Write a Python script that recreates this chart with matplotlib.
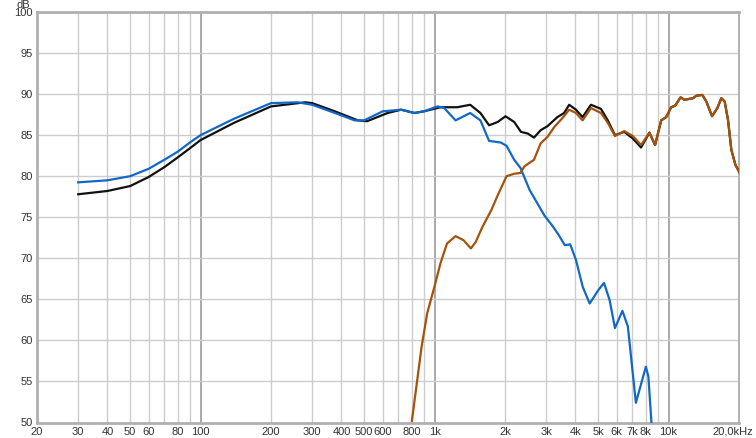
import numpy as np
import matplotlib
matplotlib.use("Agg")
import matplotlib.pyplot as plt
import matplotlib.transforms as mtransforms
from matplotlib.ticker import FixedLocator, NullLocator

# woofer (blue)
woof_f = [30, 40, 50, 60, 70, 80, 90, 100, 139, 200, 260, 300, 375, 455, 500, 600, 720,
          820, 900, 1030, 1100, 1230, 1420, 1570, 1710, 1920, 2030, 2190, 2330, 2550, 2950,
          3200, 3400, 3600, 3800, 4020, 4300, 4600, 4800, 5000, 5300, 5600, 5900, 6350,
          6700, 7250, 8000, 8200, 8450]
woof_db = [79.25, 79.5, 80.0, 80.9, 82.0, 83.0, 84.1, 85.0, 87.0, 88.9, 89.0, 88.7, 87.7,
           86.8, 86.8, 87.9, 88.1, 87.7, 87.9, 88.5, 88.3, 86.8, 87.7, 86.8, 84.3, 84.1,
           83.7, 82.0, 81.0, 78.3, 75.2, 73.9, 72.8, 71.6, 71.7, 69.8, 66.5, 64.5, 65.3,
           66.1, 67.0, 64.9, 61.5, 63.6, 61.7, 52.4, 56.8, 55.6, 50.0]

# sum (black)
sum_f = [30, 40, 50, 60, 70, 80, 90, 100, 139, 200, 280, 300, 375, 470, 515, 630, 720,
         820, 900, 1060, 1250, 1420, 1570, 1710, 1860, 2010, 2190, 2340, 2500, 2660, 2840,
         3040, 3350, 3580, 3760, 4020, 4290, 4660, 5140, 5500, 5900, 6470, 7030, 7630,
         8280, 8760, 9300, 9770, 10260, 10680, 11250, 11700, 12180, 12710, 13140, 13940,
         14500, 15340, 16160, 16810, 17370, 17960, 18550, 19300, 20140]
sum_db = [77.8, 78.2, 78.8, 79.9, 81.1, 82.3, 83.4, 84.4, 86.5, 88.5, 89.0, 88.9, 87.9,
          86.8, 86.7, 87.7, 88.1, 87.7, 87.9, 88.4, 88.4, 88.7, 87.7, 86.2, 86.6, 87.3,
          86.6, 85.4, 85.2, 84.7, 85.6, 86.1, 87.2, 87.7, 88.7, 88.1, 87.2, 88.7, 88.2,
          86.8, 85.0, 85.4, 84.6, 83.5, 85.3, 83.8, 86.8, 87.2, 88.4, 88.6, 89.6, 89.3,
          89.4, 89.5, 89.8, 89.9, 89.1, 87.3, 88.3, 89.5, 89.1, 86.8, 83.2, 81.4, 80.4]

# tweeter (brown)
tw_f = [800, 840, 880, 930, 1000, 1060, 1130, 1230, 1330, 1430, 1500, 1600, 1750, 1850,
        1920, 2030, 2190, 2330, 2420, 2660, 2840, 3040, 3250, 3550, 3760, 4020, 4290,
        4660, 5140, 5500, 5900, 6470, 7030, 7630, 8280, 8760, 9300, 9770, 10260, 10680,
        11250, 11700, 12180, 12710, 13140, 13940, 14500, 15340, 16160, 16810, 17370,
        17960, 18550, 19300, 20140]
tw_db = [50.2, 54.8, 59.2, 63.3, 66.6, 69.4, 71.8, 72.7, 72.2, 71.2, 72.0, 73.8, 75.9,
         77.5, 78.5, 80.0, 80.3, 80.4, 81.2, 82.0, 84.0, 84.8, 86.0, 87.2, 88.1, 87.7,
         86.8, 88.3, 87.7, 86.5, 84.9, 85.5, 84.9, 83.8, 85.3, 83.8, 86.8, 87.2, 88.4,
         88.6, 89.6, 89.3, 89.4, 89.5, 89.8, 89.9, 89.1, 87.3, 88.3, 89.5, 89.1, 86.8,
         83.2, 81.4, 80.4]

minor_f = [30, 40, 50, 60, 70, 80, 90, 200, 300, 400, 500, 600, 700, 800, 900,
           2000, 3000, 4000, 5000, 6000, 7000, 8000, 9000]
decade_f = [100, 1000, 10000]
xtick_f = [20, 30, 40, 50, 60, 80, 100, 200, 300, 400, 500, 600, 800, 1000, 2000, 3000,
           4000, 5000, 6000, 7000, 8000, 10000, 20000]
xtick_lbl = ["20", "30", "40", "50", "60", "80", "100", "200", "300", "400", "500", "600",
             "800", "1k", "2k", "3k", "4k", "5k", "6k", "7k", "8k", "10k", "20,0kHz"]
ytick_db = [50, 55, 60, 65, 70, 75, 80, 85, 90, 95, 100]

plt.rcParams["font.family"] = ["Liberation Sans", "DejaVu Sans"]

fig = plt.figure(figsize=(7.56, 4.38), dpi=100)
ax = fig.add_axes([37 / 756, 15.5 / 438, 702 / 756, 410.5 / 438])
ax.set_xscale("log")
ax.set_xlim(20, 20000)
ax.set_ylim(50, 100)

for f in minor_f:
    ax.axvline(f, color="#cccccc", lw=1.0, zorder=0)
for f in decade_f:
    ax.axvline(f, color="#a4a4a4", lw=1.3, zorder=0)
for d in ytick_db[1:-1]:
    ax.axhline(d, color="#cccccc", lw=1.0, zorder=0)

ax.plot(sum_f, sum_db, color="#111111", lw=1.6, zorder=3)
ax.plot(woof_f, woof_db, color="#1268c8", lw=1.6, zorder=4)
ax.plot(tw_f, tw_db, color="#a5530c", lw=1.6, zorder=5)

ax.xaxis.set_major_locator(FixedLocator(xtick_f))
ax.xaxis.set_minor_locator(NullLocator())
ax.set_xticklabels(xtick_lbl)
ax.set_yticks(ytick_db)
ax.tick_params(axis="both", length=0, labelsize=8, colors="#333333")
ax.tick_params(axis="x", pad=3)
ax.tick_params(axis="y", pad=3)

# last label sits a bit left of its tick, as in the reference
last = ax.get_xticklabels()[-1]
last.set_transform(last.get_transform() + mtransforms.ScaledTranslation(-6 / 100, 0, fig.dpi_scale_trans))

for s in ax.spines.values():
    s.set_color("#b0b0b0")
    s.set_linewidth(2.0)
ax.spines["right"].set_linewidth(1.4)

fig.text(30 / 756, 1 - 0 / 438, "dB", ha="right", va="top", fontsize=8, color="#333333")

fig.savefig("out.png", dpi=100)
